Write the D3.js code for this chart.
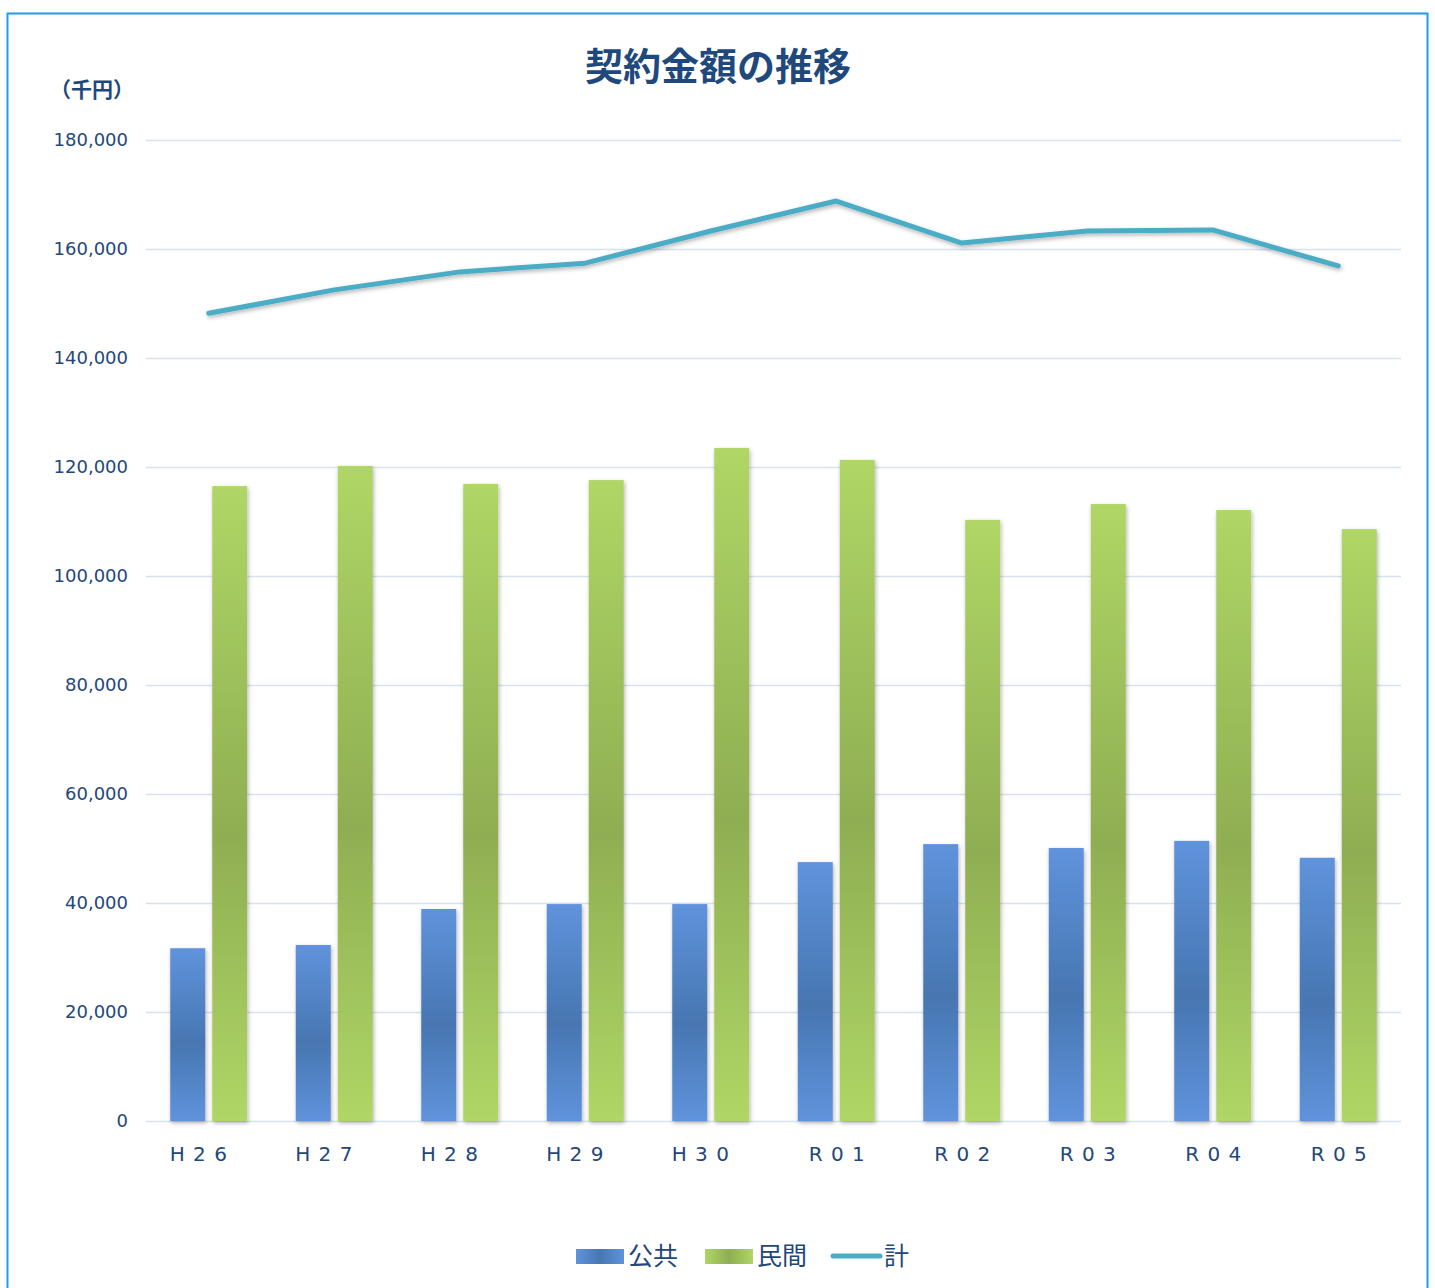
<!DOCTYPE html>
<html><head><meta charset="utf-8">
<script src="https://cdn.jsdelivr.net/npm/d3@7"></script>
<style>
html,body{margin:0;padding:0;background:#fff;}
svg{display:block;}
</style></head>
<body>
<svg id="chart" width="1435" height="1288"></svg>
<script>
const categories = ["H26","H27","H28","H29","H30","R01","R02","R03","R04","R05"];
const categoryLabels = ["H 2 6","H 2 7","H 2 8","H 2 9","H 3 0","R 0 1","R 0 2","R 0 3","R 0 4","R 0 5"];
const publicValues = [31700, 32300, 38900, 39800, 39800, 47500, 50800, 50100, 51400, 48300];
const privateValues = [116500, 120200, 116900, 117600, 123500, 121300, 110300, 113200, 112100, 108600];
const totalValues = [148200, 152500, 155800, 157400, 163300, 168800, 161100, 163300, 163500, 156900];
const yTicks = [0, 20000, 40000, 60000, 80000, 100000, 120000, 140000, 160000, 180000];
const seriesNames = ["公共", "民間", "計"];

const svg = d3.select("#chart");
const navy = "#24477A";
const fontJP = "'Noto Sans CJK JP','Noto Sans',sans-serif";
const fontAx = "'DejaVu Sans','Noto Sans',sans-serif";

// frame
svg.append("rect").attr("x", 7.5).attr("y", 13.5).attr("width", 1420).attr("height", 1290)
  .attr("fill", "#fff").attr("stroke", "#1E9BF0").attr("stroke-width", 2);

const defs = svg.append("defs");
function vgrad(id, c1, c2, horiz) {
  const g = defs.append("linearGradient").attr("id", id).attr("x1", 0).attr("y1", 0)
    .attr("x2", horiz ? 1 : 0).attr("y2", horiz ? 0 : 1);
  g.append("stop").attr("offset", "0%").attr("stop-color", c1);
  g.append("stop").attr("offset", horiz ? "50%" : "55%").attr("stop-color", c2);
  g.append("stop").attr("offset", "100%").attr("stop-color", c1);
}
vgrad("gBlue", "#5F93DC", "#4776B1", false);
vgrad("gGreen", "#AFD666", "#8FAE52", false);
vgrad("lBlue", "#5F93DC", "#4776B1", true);
vgrad("lGreen", "#AFD666", "#8FAE52", true);
const sh = defs.append("filter").attr("id", "shadow").attr("x", "-30%").attr("y", "-10%").attr("width", "160%").attr("height", "130%");
sh.append("feDropShadow").attr("dx", 1).attr("dy", 2).attr("stdDeviation", 2).attr("flood-color", "#000").attr("flood-opacity", 0.3);

const x0 = d3.scaleBand().domain(categories).range([146, 1401]).paddingInner(0).paddingOuter(0);
const y = d3.scaleLinear().domain([0, 180000]).range([1121, 140]);

// gridlines
svg.append("g").selectAll("line").data(yTicks).join("line")
  .attr("x1", 146).attr("x2", 1401)
  .attr("y1", d => y(d) + 0.5).attr("y2", d => y(d) + 0.5)
  .attr("stroke", "#D6E2F0").attr("stroke-width", 1.5);

// y axis labels
const yAxis = d3.axisLeft(y).tickValues(yTicks).tickSize(0).tickPadding(0).tickFormat(d3.format(","));
const yg = svg.append("g").attr("transform", "translate(128,0)").call(yAxis);
yg.select(".domain").remove();
yg.selectAll("text").attr("font-family", fontAx).attr("font-size", 18).attr("fill", navy);

// x axis labels
const xAxis = d3.axisBottom(x0).tickSize(0).tickPadding(0).tickFormat((d, i) => categoryLabels[i]);
const xg = svg.append("g").attr("transform", "translate(0,1147)").call(xAxis);
xg.select(".domain").remove();
xg.selectAll("text").attr("font-family", fontAx).attr("font-size", 20).attr("fill", navy).attr("letter-spacing", "1px")
  .attr("x", d => d.startsWith("H") ? -10 : 1);

// bars
const bw = 35, gap = 7;
const bars = svg.append("g").attr("filter", "url(#shadow)");
bars.selectAll("rect.pub").data(publicValues).join("rect").attr("class", "pub")
  .attr("x", (d, i) => x0(categories[i]) + x0.bandwidth() / 2 - gap / 2 - bw)
  .attr("y", d => y(d)).attr("width", bw).attr("height", d => y(0) - y(d))
  .attr("fill", "url(#gBlue)");
bars.selectAll("rect.pri").data(privateValues).join("rect").attr("class", "pri")
  .attr("x", (d, i) => x0(categories[i]) + x0.bandwidth() / 2 + gap / 2)
  .attr("y", d => y(d)).attr("width", bw).attr("height", d => y(0) - y(d))
  .attr("fill", "url(#gGreen)");

// total line
const line = d3.line().x((d, i) => x0(categories[i]) + x0.bandwidth() / 2).y(d => y(d));
svg.append("path").datum(totalValues).attr("d", line)
  .attr("fill", "none").attr("stroke", "#4BACC6").attr("stroke-width", 5)
  .attr("stroke-linejoin", "round").attr("stroke-linecap", "round")
  .attr("filter", "url(#shadow)");

// title
svg.append("text").attr("x", 718).attr("y", 80).attr("text-anchor", "middle")
  .attr("font-family", fontJP).attr("font-weight", "bold").attr("font-size", 38).attr("fill", "#1F497D")
  .text("契約金額の推移");

// unit
svg.append("text").attr("x", 50).attr("y", 97)
  .attr("font-family", fontJP).attr("font-weight", "bold").attr("font-size", 21).attr("fill", "#1F497D")
  .text("（千円）");

// legend
const lg = svg.append("g").attr("font-family", fontJP).attr("font-size", 25).attr("fill", navy);
lg.append("rect").attr("x", 576).attr("y", 1249).attr("width", 48).attr("height", 15).attr("fill", "url(#lBlue)");
lg.append("text").attr("x", 628).attr("y", 1265).text(seriesNames[0]);
lg.append("rect").attr("x", 705).attr("y", 1249).attr("width", 48).attr("height", 15).attr("fill", "url(#lGreen)");
lg.append("text").attr("x", 757).attr("y", 1265).text(seriesNames[1]);
lg.append("line").attr("x1", 833).attr("x2", 880).attr("y1", 1256).attr("y2", 1256)
  .attr("stroke", "#4BACC6").attr("stroke-width", 5).attr("stroke-linecap", "round");
lg.append("text").attr("x", 884).attr("y", 1265).text(seriesNames[2]);
</script>
</body></html>
